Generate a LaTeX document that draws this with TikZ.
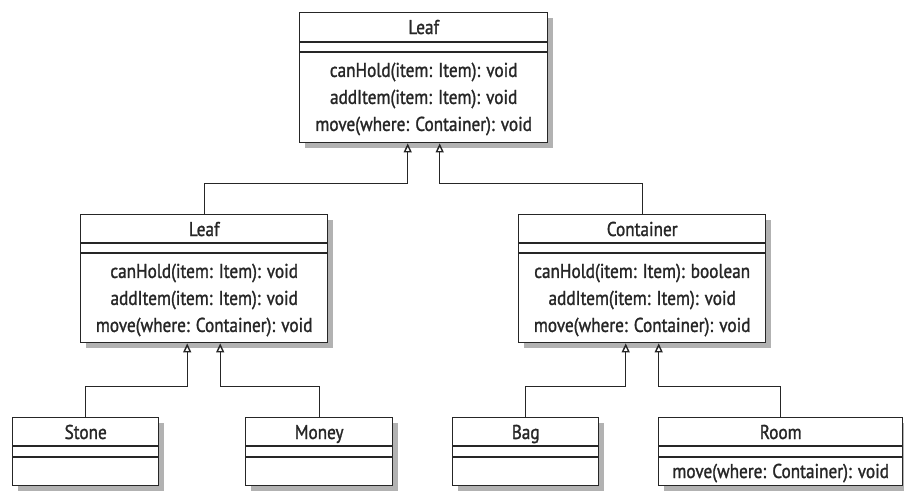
\documentclass[tikz,border=0pt]{standalone}
\usepackage{fontspec}
\setmainfont{PT Sans}[FakeStretch=0.86,FakeBold=1.3]
\usetikzlibrary{arrows.meta,shadows}
\definecolor{ink}{HTML}{262626}
\begin{document}
\begin{tikzpicture}[x=1pt,y=-1pt,
  cls/.style={draw=ink, line width=1.4pt, fill=white, anchor=north west, inner sep=0pt,
    drop shadow={shadow xshift=5pt, shadow yshift=-5pt, fill=black, opacity=0.3}},
  txt/.style={font=\fontsize{20}{27}\selectfont, text=ink, inner sep=0pt, align=center},
  sep/.style={draw=ink, line width=1.4pt},
  inh/.style={draw=ink, line width=1.4pt, -{Triangle[open, width=8pt, length=9pt]}},
]
\useasboundingbox (0,0) rectangle (904,490);
\fill[white] (0,0) rectangle (904,490);

% ---- top Leaf
\node[cls, minimum width=248pt, minimum height=130pt] (top) at (299,12) {};
\draw[sep] ([yshift=-30pt]top.north west) -- ([yshift=-30pt]top.north east);
\draw[sep] ([yshift=-40pt]top.north west) -- ([yshift=-40pt]top.north east);
\node[txt, anchor=base] (topname) at ([yshift=-22pt]top.north) {Leaf};
\node[txt] (topops) at ([yshift=-87pt]top.north) {canHold(item: Item): void\\addItem(item: Item): void\\move(where: Container): void};

% ---- middle Leaf
\node[cls, minimum width=247pt, minimum height=128pt] (lm) at (80,214) {};
\draw[sep] ([yshift=-29pt]lm.north west) -- ([yshift=-29pt]lm.north east);
\draw[sep] ([yshift=-39pt]lm.north west) -- ([yshift=-39pt]lm.north east);
\node[txt, anchor=base] (lmname) at ([yshift=-22pt]lm.north) {Leaf};
\node[txt] (lmops) at ([yshift=-86pt]lm.north) {canHold(item: Item): void\\addItem(item: Item): void\\move(where: Container): void};

% ---- middle Container
\node[cls, minimum width=247pt, minimum height=128pt] (rm) at (518,214) {};
\draw[sep] ([yshift=-29pt]rm.north west) -- ([yshift=-29pt]rm.north east);
\draw[sep] ([yshift=-39pt]rm.north west) -- ([yshift=-39pt]rm.north east);
\node[txt, anchor=base] (rmname) at ([yshift=-22pt]rm.north) {Container};
\node[txt] (rmops) at ([yshift=-86pt]rm.north) {canHold(item: Item): boolean\\addItem(item: Item): void\\move(where: Container): void};

% ---- bottom row
\node[cls, minimum width=146pt, minimum height=68pt] (stone) at (12,417) {};
\draw[sep] ([yshift=-29pt]stone.north west) -- ([yshift=-29pt]stone.north east);
\draw[sep] ([yshift=-40pt]stone.north west) -- ([yshift=-40pt]stone.north east);
\node[txt, anchor=base] (stonename) at ([yshift=-22pt]stone.north) {Stone};

\node[cls, minimum width=147pt, minimum height=68pt] (money) at (245,417) {};
\draw[sep] ([yshift=-29pt]money.north west) -- ([yshift=-29pt]money.north east);
\draw[sep] ([yshift=-40pt]money.north west) -- ([yshift=-40pt]money.north east);
\node[txt, anchor=base] (moneyname) at ([yshift=-22pt]money.north) {Money};

\node[cls, minimum width=146pt, minimum height=68pt] (bag) at (452,417) {};
\draw[sep] ([yshift=-29pt]bag.north west) -- ([yshift=-29pt]bag.north east);
\draw[sep] ([yshift=-40pt]bag.north west) -- ([yshift=-40pt]bag.north east);
\node[txt, anchor=base] (bagname) at ([yshift=-22pt]bag.north) {Bag};

\node[cls, minimum width=244pt, minimum height=68pt] (room) at (658,417) {};
\draw[sep] ([yshift=-29pt]room.north west) -- ([yshift=-29pt]room.north east);
\draw[sep] ([yshift=-40pt]room.north west) -- ([yshift=-40pt]room.north east);
\node[txt, anchor=base] (roomname) at ([yshift=-22pt]room.north) {Room};
\node[txt, anchor=base] (roomops) at ([yshift=-61pt]room.north) {move(where: Container): void};

% ---- generalisations
\draw[inh] (lm.north) |- ([xshift=-16pt,yshift=-40pt]top.south) -- ([xshift=-16pt]top.south);
\draw[inh] (rm.north) |- ([xshift=16pt,yshift=-40pt]top.south) -- ([xshift=16pt]top.south);
\draw[inh] (stone.north) |- ([xshift=-17pt,yshift=-43pt]lm.south) -- ([xshift=-17pt]lm.south);
\draw[inh] (money.north) |- ([xshift=16pt,yshift=-43pt]lm.south) -- ([xshift=16pt]lm.south);
\draw[inh] (bag.north) |- ([xshift=-16.5pt,yshift=-43pt]rm.south) -- ([xshift=-16.5pt]rm.south);
\draw[inh] (room.north) |- ([xshift=16.5pt,yshift=-43pt]rm.south) -- ([xshift=16.5pt]rm.south);
\end{tikzpicture}
\end{document}
